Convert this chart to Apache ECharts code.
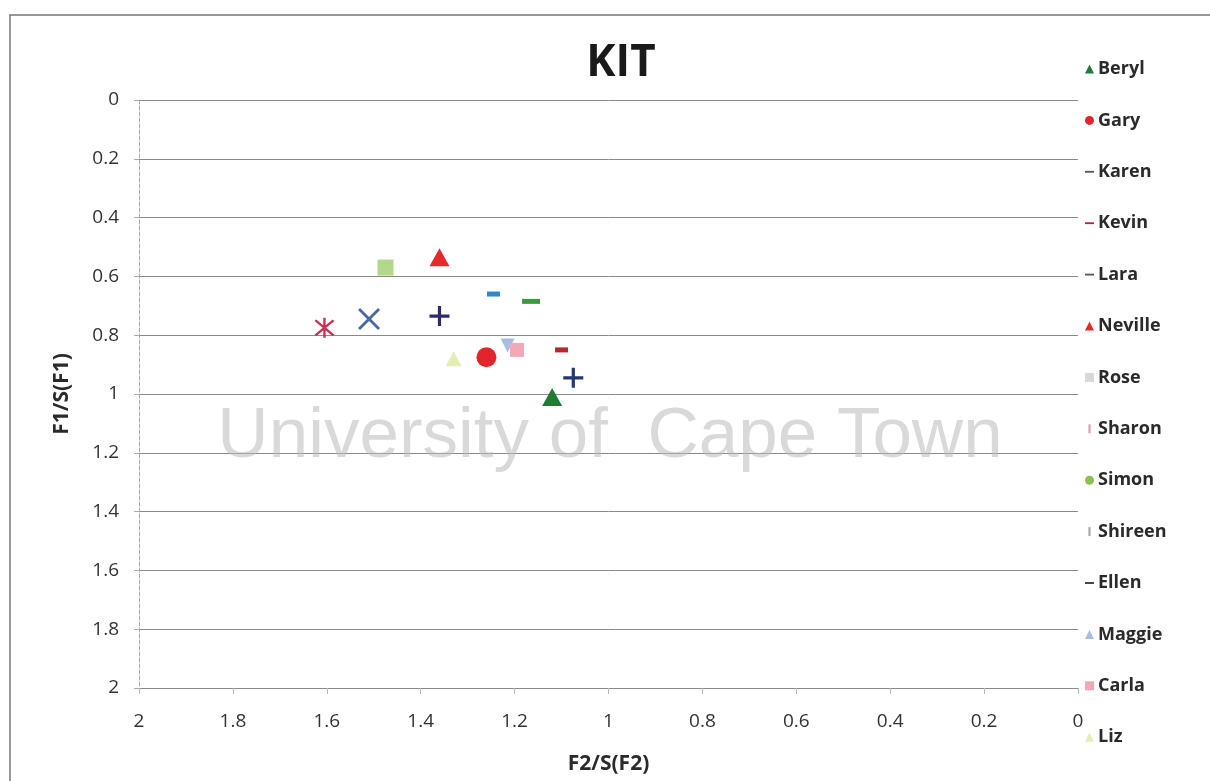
<!DOCTYPE html>
<html>
<head>
<meta charset="utf-8">
<script src="https://cdn.jsdelivr.net/npm/echarts@6/dist/echarts.min.js"></script>
<style>html,body{margin:0;padding:0;background:#fff}#c{width:1210px;height:781px}</style>
</head>
<body>
<div id="c"></div>
<script>
const names = ['Beryl','Gary','Karen','Kevin','Lara','Neville','Rose','Sharon','Simon','Shireen','Ellen','Maggie','Carla','Liz'];
const xValues = [1.12, 1.26, 1.245, 1.10, 1.165, 1.36, 1.51, 1.605, 1.475, 1.36, 1.075, 1.215, 1.195, 1.33];
const yValues = [1.01, 0.875, 0.66, 0.85, 0.685, 0.535, 0.745, 0.775, 0.57, 0.735, 0.945, 0.835, 0.85, 0.88];
// tick labels, in ascending value order
const xTicks = ['0','0.2','0.4','0.6','0.8','1','1.2','1.4','1.6','1.8','2'];
const yTicks = ['0','0.2','0.4','0.6','0.8','1','1.2','1.4','1.6','1.8','2'];
const colors = ['#237a35','#e3242b','#3185cc','#b8262e','#3a9b3f','#e52a2a','#4868ae','#c23456','#b3d88a','#2c2c6e','#24357a','#a7bde3','#f2a9b6','#e3edb4'];
const legendColors = ['#237a35','#e3242b','#555','#b8262e','#555','#e52a2a','#d8d8d8','#e0a0b0','#8fbf50','#aaa','#333','#a7bde3','#f2a9b6','#e3edb4'];

const P_PLUS = 'path://M4.2,0H5.8V4.2H10V5.8H5.8V10H4.2V5.8H0V4.2H4.2Z';
const P_X = 'path://M0,0.9L0.9,0L5,4.1L9.1,0L10,0.9L5.9,5L10,9.1L9.1,10L5,5.9L0.9,10L0,9.1L4.1,5Z';
const P_AST = 'path://M0,0.9L0.9,0L5,4.1L9.1,0L10,0.9L5.9,5L10,9.1L9.1,10L5,5.9L0.9,10L0,9.1L4.1,5ZM4.4,-1H5.6V11H4.4Z';
const P_DASH = 'path://M0,4H10V6H0Z';
const P_TICK = 'path://M4,1H6V9H4Z';
const symbols = ['triangle','circle','rect','rect','rect','triangle',P_X,P_AST,'rect',P_PLUS,P_PLUS,'triangle','rect','triangle'];
const sizes = [[20,18],20,[13,5],[13,5],[18,5],[20,18],22,20,[16,16],20,20,[14,14],[14,14],[16,15]];
const legendIcons = ['triangle','circle',P_DASH,P_DASH,P_DASH,'triangle','rect',P_TICK,'circle',P_TICK,P_DASH,'triangle','rect','triangle'];

const chart = echarts.init(document.getElementById('c'), null, {renderer:'canvas'});
const series = names.map((n,i)=>({
  name:n, type:'scatter',
  data:[[xValues[i], yValues[i]]],
  symbol:symbols[i], symbolSize:sizes[i],
  symbolRotate: (i===11 ? 180 : 0),
  itemStyle:{color:colors[i], opacity:1},
  z:5
}));
const legendData = names.map((n,i)=>({name:n, icon:legendIcons[i], itemStyle:{color:legendColors[i]}}));
const labelFont = {fontFamily:'Open Sans', fontSize:19, color:'#333'};

chart.setOption({
  backgroundColor:'#fff',
  animation:false,
  title:{text:'KIT', left:616, top:36, textAlign:'center',
    textStyle:{fontFamily:'Open Sans', fontSize:44, fontWeight:'bold', color:'#1a1a1a'}},
  legend:{orient:'vertical', left:1080, top:55, itemWidth:9, itemHeight:9, itemGap:33.4,
    data:legendData,
    textStyle:{fontFamily:'Open Sans', fontSize:18, fontWeight:'bold', color:'#2a2a2a', padding:[0,0,0,-1]}},
  grid:{left:139, right:132, top:100, bottom:93},
  xAxis:{type:'value', min:0, max:2, interval:0.2, inverse:true, position:'bottom',
    name:'F2/S(F2)', nameLocation:'middle', nameGap:66,
    nameTextStyle:{fontFamily:'Open Sans', fontSize:21, fontWeight:'bold', color:'#2a2a2a'},
    axisLine:{show:false, onZero:false},
    axisTick:{show:true, length:6, lineStyle:{color:'#bbb'}},
    splitLine:{show:false},
    axisLabel:Object.assign({margin:24, formatter:v=>xTicks[Math.round(v/0.2)]}, labelFont)},
  yAxis:{type:'value', min:0, max:2, interval:0.2, inverse:true, position:'left',
    name:'F1/S(F1)', nameLocation:'middle', nameGap:66, nameRotate:90,
    nameTextStyle:{fontFamily:'Open Sans', fontSize:21, fontWeight:'bold', color:'#2a2a2a'},
    axisLine:{show:true, onZero:false, lineStyle:{color:'#aaa', type:'dashed'}},
    axisTick:{show:true, length:5, lineStyle:{color:'#aaa'}},
    splitLine:{show:true, lineStyle:{color:'#8a8a8a', width:1}},
    axisLabel:Object.assign({margin:20, formatter:v=>yTicks[Math.round(v/0.2)]}, labelFont)},
  graphic:[
    {type:'rect', shape:{x:10, y:15, width:1240, height:800}, style:{fill:'none', stroke:'#777', lineWidth:1.5}, z:0},
    {type:'text', z:10, style:{text:'University of  Cape Town', x:610, y:437, textAlign:'center', textVerticalAlign:'middle', fontFamily:'Liberation Sans', fontSize:71, fill:'rgba(185,185,185,0.55)'}}
  ],
  series
});
</script>
</body>
</html>
